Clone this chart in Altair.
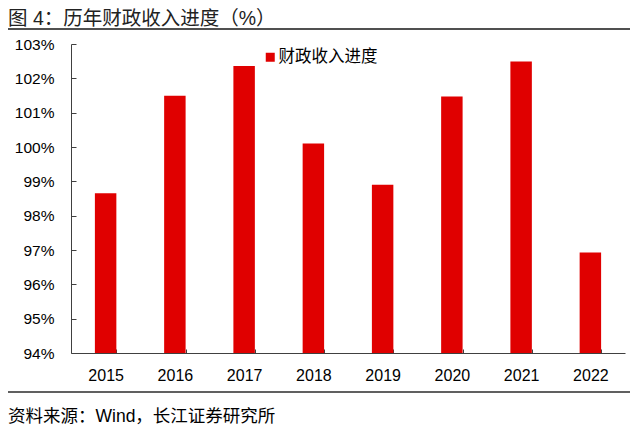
import altair as alt
import pandas as pd

years = ["2015", "2016", "2017", "2018", "2019", "2020", "2021", "2022"]
progress = [98.65, 101.49, 102.36, 100.10, 98.90, 101.47, 102.49, 96.93]
y_ticks = [94, 95, 96, 97, 98, 99, 100, 101, 102, 103]
series_name = "财政收入进度"
title_text = "图 4：历年财政收入进度（%）"
source_text = "资料来源：Wind，长江证券研究所"

RED = "#E00000"
AXIS = "#404040"
LATIN = "Liberation Sans, Arial, Noto Sans CJK SC"
CJK = "Noto Sans CJK SC"

df = pd.DataFrame({"year": years, "value": progress, "series": [series_name] * len(years)})

bars = alt.Chart(df).mark_bar(color=RED).encode(
    x=alt.X(
        "year:N",
        sort=years,
        scale=alt.Scale(paddingInner=0.69, paddingOuter=0.345),
        axis=alt.Axis(
            title=None, labelAngle=0, tickBand="extent", tickSize=alt.ExprRef("-4"),
            labelFontSize=16, labelFont=LATIN, labelColor="#000", labelPadding=18,
            domainColor=AXIS, tickColor=AXIS,
        ),
    ),
    y=alt.Y(
        "value:Q",
        scale=alt.Scale(domain=[y_ticks[0], y_ticks[-1]], nice=False, zero=False),
        axis=alt.Axis(
            title=None, values=y_ticks, labelExpr="datum.value + '%'",
            tickSize=alt.ExprRef("-5"), labelFontSize=15.5, labelFont=LATIN,
            labelColor="#000", labelPadding=22, grid=False,
            domainColor=AXIS, tickColor=AXIS,
        ),
    ),
    y2=alt.Y2(datum=y_ticks[0]),
    color=alt.Color(
        "series:N",
        scale=alt.Scale(range=[RED]),
        legend=alt.Legend(
            title=None, orient="none", legendX=191, legendY=5,
            symbolType="square", symbolSize=81, symbolStrokeWidth=0,
            labelFont=CJK, labelFontSize=16.5, labelColor="#000", labelOffset=0,
        ),
    ),
)

title = alt.Chart(pd.DataFrame({"t": [title_text]})).mark_text(
    align="left", baseline="middle", fontSize=19.5, font=LATIN, color="#222"
).encode(text="t:N", x=alt.value(-63), y=alt.value(-25))

source = alt.Chart(pd.DataFrame({"t": [source_text]})).mark_text(
    align="left", baseline="middle", fontSize=17.5, font=LATIN, color="#000"
).encode(text="t:N", x=alt.value(-63), y=alt.value(373))

top_line = alt.Chart(pd.DataFrame({"a": [0]})).mark_rule(color="#505050", strokeWidth=2).encode(
    x=alt.value(-63), x2=alt.value(559), y=alt.value(-15)
)
bottom_line = alt.Chart(pd.DataFrame({"a": [0]})).mark_rule(color="#606060", strokeWidth=2).encode(
    x=alt.value(-63), x2=alt.value(559), y=alt.value(348)
)

chart = alt.layer(bars, title, source, top_line, bottom_line).properties(
    width=554, height=309,
    autosize=alt.AutoSizeParams(type="none"),
    padding={"left": 63, "top": 36, "right": 7, "bottom": 73},
).configure_view(stroke=None).configure_axis(domainWidth=1, tickWidth=1)

chart.save("out.html", embed_options={"renderer": "svg", "actions": False})
